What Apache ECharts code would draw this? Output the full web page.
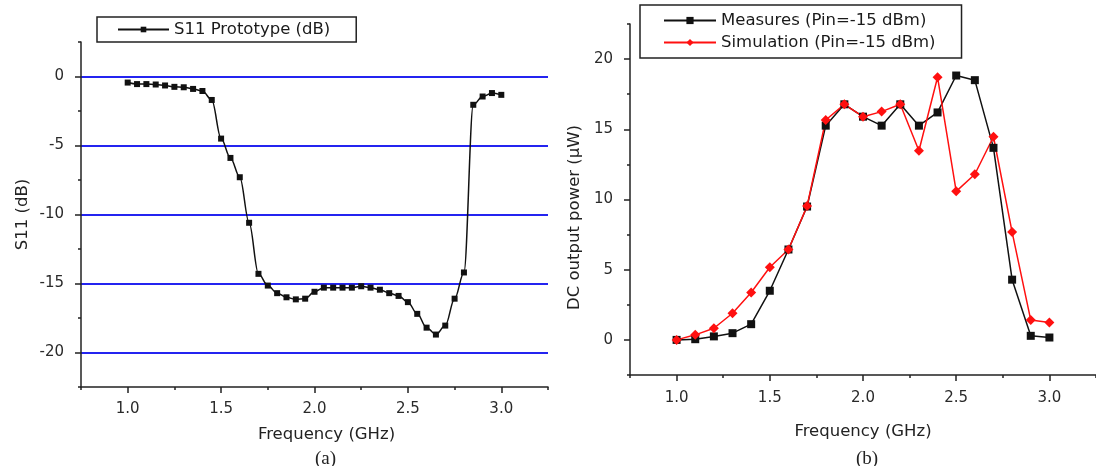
<!DOCTYPE html>
<html>
<head>
<meta charset="utf-8">
<script src="https://cdn.jsdelivr.net/npm/echarts@6/dist/echarts.min.js"></script>
<style>
  html, body { margin: 0; padding: 0; background: #fff; }
  #chart { width: 1096px; height: 466px; }
</style>
</head>
<body>
<div id="chart"></div>
<script>
// (a) S11 of the prototype versus frequency
const s11Freq = [1.00, 1.05, 1.10, 1.15, 1.20, 1.25, 1.30, 1.35, 1.40, 1.45,
                 1.50, 1.55, 1.60, 1.65, 1.70, 1.75, 1.80, 1.85, 1.90, 1.95,
                 2.00, 2.05, 2.10, 2.15, 2.20, 2.25, 2.30, 2.35, 2.40, 2.45,
                 2.50, 2.55, 2.60, 2.65, 2.70, 2.75, 2.80, 2.85, 2.90, 2.95, 3.00];
const s11Db = [-0.44, -0.55, -0.55, -0.58, -0.65, -0.75, -0.78, -0.90, -1.05, -1.70,
               -4.50, -5.90, -7.30, -10.60, -14.30, -15.15, -15.70, -16.00, -16.15, -16.10,
               -15.60, -15.30, -15.30, -15.30, -15.30, -15.20, -15.30, -15.45, -15.70, -15.90,
               -16.35, -17.20, -18.20, -18.70, -18.05, -16.10, -14.20, -2.05, -1.45, -1.20, -1.33];

// (b) rectified DC output power, measured and simulated
const dcFreq = [1.0, 1.1, 1.2, 1.3, 1.4, 1.5, 1.6, 1.7, 1.8, 1.9, 2.0,
                2.1, 2.2, 2.3, 2.4, 2.5, 2.6, 2.7, 2.8, 2.9, 3.0];
const measuresUw = [0.0, 0.05, 0.25, 0.48, 1.12, 3.5, 6.44, 9.5, 15.26, 16.78, 15.9,
                    15.26, 16.78, 15.26, 16.2, 18.83, 18.5, 13.68, 4.29, 0.29, 0.17];
const simulationUw = [0.0, 0.36, 0.83, 1.9, 3.38, 5.17, 6.44, 9.53, 15.66, 16.78, 15.9,
                      16.26, 16.78, 13.47, 18.71, 10.58, 11.8, 14.47, 7.68, 1.41, 1.24];

// tick positions
const freqMajor = [1.0, 1.5, 2.0, 2.5, 3.0];
const freqMinor = [0.75, 1.25, 1.75, 2.25, 2.75, 3.25];
const s11Major = [-20, -15, -10, -5, 0];
const s11Minor = [-22.5, -17.5, -12.5, -7.5, -2.5, 2.5];
const powerMajor = [0, 5, 10, 15, 20];
const powerMinor = [-2.5, 2.5, 7.5, 12.5, 17.5, 22.5];

const names = {
  s11: 'S11 Prototype (dB)',
  meas: 'Measures (Pin=-15 dBm)',
  sim: 'Simulation (Pin=-15 dBm)'
};

const FONT = 'DejaVu Sans, Verdana, sans-serif';
const AXIS_COLOR = '#222';
const LABEL_COLOR = '#2a2a2a';

function pairs(xs, ys) { return xs.map((x, i) => [x, ys[i]]); }

function majorAxis(gridIndex, position, min, max, ticks, fmt, margin, extra) {
  return Object.assign({
    type: 'value', gridIndex, position, min, max,
    axisLine: { show: true, onZero: false, lineStyle: { color: AXIS_COLOR, width: 1.5 } },
    axisTick: { show: true, inside: false, length: 6, customValues: ticks,
                lineStyle: { color: AXIS_COLOR, width: 1.5 } },
    axisLabel: { customValues: ticks, fontFamily: FONT, fontSize: 15, color: LABEL_COLOR,
                 margin: margin, formatter: fmt },
    splitLine: { show: false }
  }, extra || {});
}
function minorAxis(gridIndex, position, min, max, ticks) {
  return {
    type: 'value', gridIndex, position, min, max,
    axisLine: { show: false, onZero: false },
    axisTick: { show: true, inside: false, length: 3, customValues: ticks,
                lineStyle: { color: AXIS_COLOR, width: 1.5 } },
    axisLabel: { show: false },
    splitLine: { show: false }
  };
}

const fmtFreq = v => v.toFixed(1);
const fmtInt = v => String(v);
const nameStyle = { fontFamily: FONT, fontSize: 16.5, color: '#222' };

const option = {
  backgroundColor: '#fff',
  animation: false,
  title: [
    { text: '(a)', left: 310, top: 445,
      textStyle: { fontFamily: 'Liberation Serif, serif', fontSize: 19, fontWeight: 'normal', color: '#222' } },
    { text: '(b)', left: 851, top: 445,
      textStyle: { fontFamily: 'Liberation Serif, serif', fontSize: 19, fontWeight: 'normal', color: '#222' } }
  ],
  legend: [
    { data: [names.s11], left: 97, top: 17, orient: 'vertical',
      borderColor: '#222', borderWidth: 1.5, borderRadius: 0, padding: [4, 26, 4, 20],
      itemWidth: 51, itemHeight: 7,
      textStyle: { fontFamily: FONT, fontSize: 16.5, color: '#1a1a1a' } },
    { data: [names.meas, names.sim], left: 640, top: 5, orient: 'vertical',
      borderColor: '#222', borderWidth: 1.5, borderRadius: 0, padding: [7, 26, 7, 23],
      itemWidth: 52, itemHeight: 9, itemGap: 5,
      textStyle: { fontFamily: FONT, fontSize: 16.5, color: '#1a1a1a' } }
  ],
  grid: [
    { left: 81, right: 548, top: 42, bottom: 79 },
    { left: 630, right: -6, top: 24, bottom: 91 }
  ],
  xAxis: [
    majorAxis(0, 'bottom', 0.75, 3.25, freqMajor, fmtFreq, 15, {
      name: 'Frequency (GHz)', nameLocation: 'middle', nameGap: 39,
      nameTextStyle: Object.assign({ padding: [0, 0, 0, 24] }, nameStyle)
    }),
    minorAxis(0, 'bottom', 0.75, 3.25, freqMinor),
    majorAxis(1, 'bottom', 0.75, 3.25, freqMajor, fmtFreq, 16, {
      name: 'Frequency (GHz)', nameLocation: 'middle', nameGap: 48,
      nameTextStyle: nameStyle
    }),
    minorAxis(1, 'bottom', 0.75, 3.25, freqMinor)
  ],
  yAxis: [
    majorAxis(0, 'left', -22.5, 2.5, s11Major, fmtInt, 17, {
      name: 'S11 (dB)', nameLocation: 'middle', nameGap: 50,
      nameTextStyle: nameStyle,
      splitLine: { show: true, lineStyle: { color: '#2424f0', width: 2 } }
    }),
    minorAxis(0, 'left', -22.5, 2.5, s11Minor),
    majorAxis(1, 'left', -2.5, 22.5, powerMajor, fmtInt, 17, {
      name: 'DC output power (\u00b5W)', nameLocation: 'middle', nameGap: 47,
      nameTextStyle: Object.assign({ padding: [0, 36, 0, 0] }, nameStyle)
    }),
    minorAxis(1, 'left', -2.5, 22.5, powerMinor)
  ],
  series: [
    { name: names.s11, type: 'line', xAxisIndex: 0, yAxisIndex: 0,
      data: pairs(s11Freq, s11Db), smooth: 0.35, smoothMonotone: 'x',
      symbol: 'rect', symbolSize: 6,
      lineStyle: { color: '#111', width: 1.5 }, itemStyle: { color: '#111' } },
    { name: names.meas, type: 'line', xAxisIndex: 2, yAxisIndex: 2,
      data: pairs(dcFreq, measuresUw), symbol: 'rect', symbolSize: 8,
      lineStyle: { color: '#111', width: 1.5 }, itemStyle: { color: '#111' } },
    { name: names.sim, type: 'line', xAxisIndex: 2, yAxisIndex: 2,
      data: pairs(dcFreq, simulationUw), symbol: 'diamond', symbolSize: 10,
      lineStyle: { color: '#ff1010', width: 1.5 }, itemStyle: { color: '#ff1010' } }
  ]
};

const chart = echarts.init(document.getElementById('chart'), null, { renderer: 'canvas' });
chart.setOption(option);
</script>
</body>
</html>
